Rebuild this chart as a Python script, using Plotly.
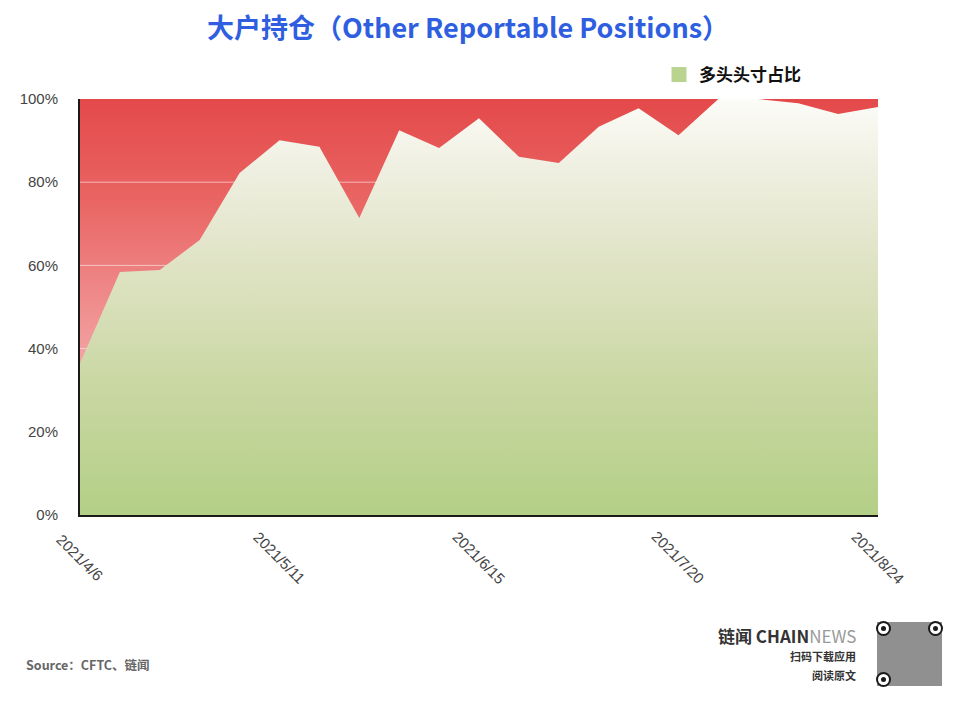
import plotly.graph_objects as go

dates = ["2021-04-06", "2021-04-13", "2021-04-20", "2021-04-27", "2021-05-04",
         "2021-05-11", "2021-05-18", "2021-05-25", "2021-06-01", "2021-06-08",
         "2021-06-15", "2021-06-22", "2021-06-29", "2021-07-06", "2021-07-13",
         "2021-07-20", "2021-07-27", "2021-08-03", "2021-08-10", "2021-08-17",
         "2021-08-24"]
long_pct = [36.5, 58.4, 58.9, 66.1, 82.2, 90.1, 88.5, 71.4, 92.5, 88.2,
            95.4, 86.1, 84.6, 93.3, 97.8, 91.3, 100.0, 100.0, 99.0, 96.4, 98.1]
short_pct = [round(100 - v, 1) for v in long_pct]
total_pct = [a + b for a, b in zip(long_pct, short_pct)]

xtick_dates = ["2021-04-06", "2021-05-11", "2021-06-15", "2021-07-20", "2021-08-24"]
xtick_labels = ["2021/4/6", "2021/5/11", "2021/6/15", "2021/7/20", "2021/8/24"]
ytick_vals = [0, 20, 40, 60, 80, 100]
ytick_text = ["0%", "20%", "40%", "60%", "80%", "100%"]
grid_vals = [20, 40, 60, 80]

legend_name = "多头头寸占比"
title_text = "大户持仓（Other Reportable Positions）"

# page geometry (browser adds 8px body margin)
OFF = 8
W, H = 960 - OFF, 705 - OFF
L, T, R, B = 80 - OFF, 99 - OFF, 82, 190
PW, PH = 798, 416


def pxx(x):
    return (x - 80) / PW


def pxy(y):
    return (515 - y) / PH


fig = go.Figure()

fig.add_trace(go.Scatter(
    x=dates, y=total_pct, mode="lines", line=dict(width=0),
    fill="tozeroy", showlegend=False, hoverinfo="skip",
    fillgradient=dict(type="vertical", start=0, stop=100,
                      colorscale=[[0, "#fbd6d6"], [0.35, "#f4a6a6"], [0.55, "#ee8686"],
                                  [0.75, "#e96664"], [1, "#e4494a"]]),
))

for g in grid_vals:
    fig.add_trace(go.Scatter(
        x=[dates[0], dates[-1]], y=[g, g], mode="lines",
        line=dict(color="rgba(255,255,255,0.55)", width=1),
        showlegend=False, hoverinfo="skip"))

fig.add_trace(go.Scatter(
    x=dates, y=long_pct, mode="lines", line=dict(width=0),
    fill="tozeroy", showlegend=False, name=legend_name,
    fillgradient=dict(type="vertical", start=0, stop=100,
                      colorscale=[[0, "#b3cf86"], [0.3, "#c9d7a2"], [0.6, "#dfe3c4"],
                                  [0.85, "#f0f0e3"], [1, "#fcfcf8"]]),
))

fig.add_trace(go.Scatter(
    x=[None], y=[None], mode="markers", name="<b>" + legend_name + "</b>",
    marker=dict(symbol="square", size=15, color="#b8d48f"),
))

annotations = []
annotations.append(dict(
    x=pxx(468), y=pxy(27), xref="paper", yref="paper", xanchor="center", yanchor="middle",
    showarrow=False, text="<b>" + title_text + "</b>",
    font=dict(family="Noto Sans CJK SC", size=27, color="#2f5fe0")))

for d, lab in zip(xtick_dates, xtick_labels):
    annotations.append(dict(
        x=d, y=0, xref="x", yref="y", text=lab, showarrow=False,
        textangle=45, yshift=-42,
        font=dict(family="Liberation Sans, Arial", size=15, color="#444444")))

# faint watermarks
for (wx, wy) in [(190, 80), (560, 72), (935, 120), (20, 290), (935, 415),
                 (170, 575), (470, 595), (800, 650), (560, 690)]:
    annotations.append(dict(
        x=pxx(wx), y=pxy(wy), xref="paper", yref="paper", text="<i>链闻 CHAINNEWS</i>",
        showarrow=False, textangle=-20,
        font=dict(family="Noto Sans CJK SC", size=34, color="rgba(0,0,0,0.025)")))

annotations.append(dict(
    x=pxx(24), y=pxy(664), xref="paper", yref="paper", text="<b>Source：CFTC、链闻</b>",
    showarrow=False, xanchor="left", yanchor="middle",
    font=dict(family="Noto Sans CJK SC", size=12.5, color="#666666")))

annotations.append(dict(
    x=pxx(858), y=pxy(635), xref="paper", yref="paper", xanchor="right", yanchor="middle",
    showarrow=False, text="<b>链闻 CHAIN</b><span style='color:#9a9a9a'>NEWS</span>",
    font=dict(family="Noto Sans CJK SC", size=17, color="#333333")))
annotations.append(dict(
    x=pxx(858), y=pxy(656), xref="paper", yref="paper", xanchor="right", yanchor="middle",
    showarrow=False, text="<b>扫码下载应用</b>",
    font=dict(family="Noto Sans CJK SC", size=11, color="#333333")))
annotations.append(dict(
    x=pxx(858), y=pxy(675), xref="paper", yref="paper", xanchor="right", yanchor="middle",
    showarrow=False, text="<b>阅读原文</b>",
    font=dict(family="Noto Sans CJK SC", size=11, color="#333333")))

# QR-code-like block
shapes = [dict(type="rect", xref="paper", yref="paper",
               x0=pxx(877), x1=pxx(942), y0=pxy(686), y1=pxy(622),
               fillcolor="rgba(70,70,70,0.6)", line=dict(width=0))]
for (fx, fy) in [(877, 622), (929, 622), (877, 673)]:
    shapes.append(dict(type="circle", xref="paper", yref="paper",
                       x0=pxx(fx), x1=pxx(fx + 13), y0=pxy(fy + 13), y1=pxy(fy),
                       fillcolor="white", line=dict(color="#1a1a1a", width=2)))
    shapes.append(dict(type="circle", xref="paper", yref="paper",
                       x0=pxx(fx + 4), x1=pxx(fx + 9), y0=pxy(fy + 9), y1=pxy(fy + 4),
                       fillcolor="#1a1a1a", line=dict(width=0)))

fig.update_layout(
    width=W, height=H,
    margin=dict(l=L, r=R, t=T, b=B, autoexpand=False),
    paper_bgcolor="white", plot_bgcolor="white",
    xaxis=dict(range=[dates[0], dates[-1]], showgrid=False, showticklabels=False,
               showline=True, linecolor="#1a1a1a", linewidth=2, zeroline=False,
               ticks=""),
    yaxis=dict(range=[0, 100], tickvals=ytick_vals, ticktext=ytick_text, showgrid=False,
               showline=True, linecolor="#1a1a1a", linewidth=2, zeroline=False,
               ticks="", ticklabelstandoff=17,
               tickfont=dict(family="Liberation Sans, Arial", size=15, color="#444444")),
    legend=dict(x=pxx(659), y=pxy(75), xanchor="left", yanchor="middle", orientation="h",
                bgcolor="rgba(0,0,0,0)",
                font=dict(family="Noto Sans CJK SC", size=17, color="#111111")),
    showlegend=True,
    annotations=annotations,
    shapes=shapes,
)

fig.write_html("out.html")
